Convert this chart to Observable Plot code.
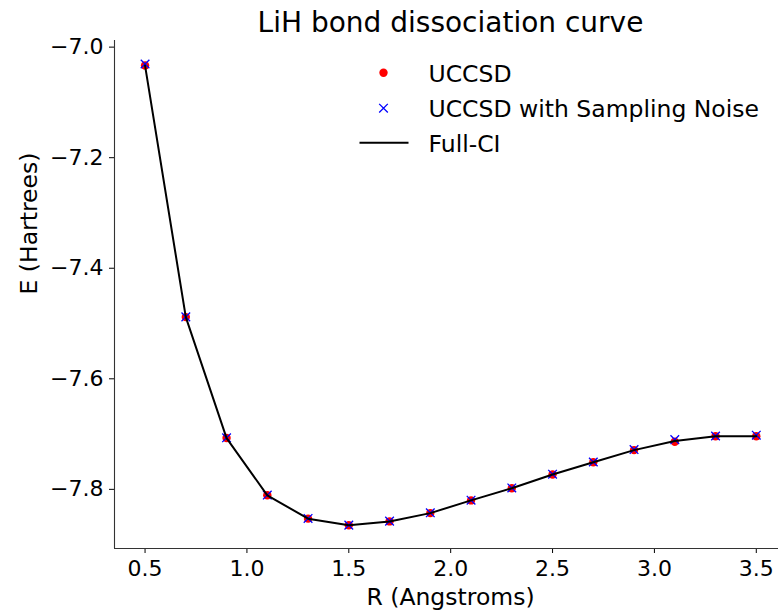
<!DOCTYPE html>
<html><head><meta charset="utf-8">
<script src="https://cdn.jsdelivr.net/npm/d3@7"></script>
<script src="https://cdn.jsdelivr.net/npm/@observablehq/plot@0.6"></script>
<style>body{margin:0;background:#fff;}</style>
</head><body><div id="chart"></div>
<script>
const R = [0.5, 0.7, 0.9, 1.1, 1.3, 1.5, 1.7, 1.9, 2.1, 2.3, 2.5, 2.7, 2.9, 3.1, 3.3, 3.5];
const uccsd = [-7.0333, -7.4884, -7.7072, -7.8108, -7.8530, -7.8650, -7.8580, -7.8430, -7.8200, -7.7980, -7.7730, -7.7510, -7.7290, -7.7140, -7.7040, -7.7040];
const uccsdNoise = [-7.0305, -7.4880, -7.7068, -7.8104, -7.8526, -7.8647, -7.8575, -7.8425, -7.8196, -7.7975, -7.7725, -7.7505, -7.7280, -7.7100, -7.7035, -7.7020];
const fullCI = [-7.0333, -7.4884, -7.7072, -7.8108, -7.8530, -7.8650, -7.8580, -7.8430, -7.8200, -7.7980, -7.7730, -7.7510, -7.7290, -7.7125, -7.7040, -7.7040];
const xTicks = [0.5, 1.0, 1.5, 2.0, 2.5, 3.0, 3.5];
const yTicks = [-7.8, -7.6, -7.4, -7.2, -7.0];
const legendLabels = ["UCCSD", "UCCSD with Sampling Noise", "Full-CI"];
const titleText = "LiH bond dissociation curve";
const xLabel = "R (Angstroms)";
const yLabel = "E (Hartrees)";

const xDomain = [0.35, 3.609];
const yDomain = [-7.907, -6.988];

const uData = R.map((r, i) => ({R: r, E: uccsd[i]}));
const nData = R.map((r, i) => ({R: r, E: uccsdNoise[i]}));
const fData = R.map((r, i) => ({R: r, E: fullCI[i]}));

const hline = {draw(ctx, size) { const r = Math.sqrt(size / Math.PI); ctx.moveTo(-r, 0); ctx.lineTo(r, 0); }};
const fmt = d3.format(".1f");
const spine = "#333";
const legendText = (label, dy) => Plot.text([label], {frameAnchor: "top-left", dx: 314, dy, lineAnchor: "middle", textAnchor: "start", fontSize: 23.5});

const chart = Plot.plot({
  width: 778, height: 610,
  marginLeft: 114, marginRight: 0, marginTop: 40, marginBottom: 62,
  style: {fontFamily: "DejaVu Sans", fontSize: "22px", background: "white", overflow: "visible", color: "black"},
  x: {domain: xDomain, ticks: xTicks, tickFormat: fmt, tickSize: 5, tickPadding: 7, label: null},
  y: {domain: yDomain, ticks: yTicks, tickFormat: fmt, tickSize: 5, tickPadding: 6, label: null},
  marks: [
    Plot.ruleX([xDomain[0]], {stroke: spine, strokeWidth: 1.1}),
    Plot.ruleY([yDomain[0]], {stroke: spine, strokeWidth: 1.1}),
    Plot.dot(uData, {x: "R", y: "E", r: 4.2, fill: "#ff0000", stroke: null}),
    Plot.dot(nData, {x: "R", y: "E", r: 4, symbol: "times", stroke: "#0000ff", strokeWidth: 1.3}),
    Plot.line(fData, {x: "R", y: "E", stroke: "black", strokeWidth: 2}),
    Plot.text([titleText], {frameAnchor: "top", dx: 4, dy: -28, lineAnchor: "top", fontSize: 28}),
    Plot.text([xLabel], {frameAnchor: "bottom", dx: 4, dy: 40, lineAnchor: "top", fontSize: 23.5}),
    Plot.text([yLabel], {frameAnchor: "left", dx: -94, rotate: -90, lineAnchor: "top", fontSize: 23.5}),
    // legend
    Plot.dot([legendLabels[0]], {frameAnchor: "top-left", dx: 269, dy: 32.3, r: 4.2, fill: "#ff0000", stroke: null}),
    Plot.dot([legendLabels[1]], {frameAnchor: "top-left", dx: 269, dy: 67.7, r: 4, symbol: "times", stroke: "#0000ff", strokeWidth: 1.3}),
    Plot.dot([legendLabels[2]], {frameAnchor: "top-left", dx: 269.5, dy: 102.3, r: 24.5, symbol: hline, stroke: "black", strokeWidth: 2, fill: "none"}),
    legendText(legendLabels[0], 33.9),
    legendText(legendLabels[1], 69.1),
    legendText(legendLabels[2], 103.8)
  ]
});
document.getElementById("chart").append(chart);
</script></body></html>
